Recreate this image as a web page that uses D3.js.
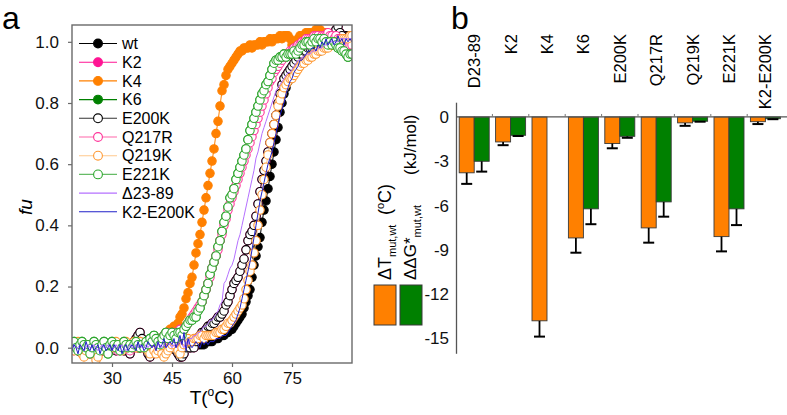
<!DOCTYPE html>
<html><head><meta charset="utf-8">
<script src="https://cdn.jsdelivr.net/npm/d3@7"></script>
<style>
body{margin:0;background:#fff}
svg{display:block;font-family:"Liberation Sans",Arial,sans-serif}
</style>
</head><body>
<svg id="c" width="787" height="415"></svg>
<script>
// ---------- Panel a data: fu (in %) sampled every 0.5 °C from 20 to 90 °C ----------
const tempStart = 20, tempStep = 0.5;
const fuWt = [
0,1,0,-1,0,1,0,0,1,0, 0,1,0,0,-1,0,1,0,0,1, 0,0,1,0,0,1,0,-1,0,1, 1,0,1,0,0,1,1,0,1,0,
1,0,0,1,0,1,0,0,1,0, 0,1,0,0,1,0,0,0,1,0, 0,1,1,1,1,1,1,2,2,2, 2,3,3,3,4,4,4,5,5,6,
6,7,8,9,10,11,13,15,17,19, 23,27,30,33,36,41,45,48,52,56, 60,64,68,72,77,80,83,85,87,88,
89,90,91,92,93,93,94,94,95,95, 96,96,97,97,97,98,98,99,99,99, 100,100,100,101,101,101,101,102,101,102, 102];
const fuK2 = [
0,1,0,-1,0,1,0,1,0,-1, 0,1,0,0,1,-1,0,1,0,0, 1,0,-1,0,1,0,-1,0,1,-2, 0,2,3,4,5,3,1,0,-2,-3,
-1,0,1,0,1,0,-1,0,1,0, 1,0,-1,-2,-3,-3,-2,0,1,0, 1,0,2,3,4,5,5,6,7,7, 8,8,9,10,10,11,12,14,15,17,
19,21,22,23,25,27,29,32,35,37, 38,40,43,47,51,55,58,61,64,67, 70,73,76,80,83,86,88,89,90,91,
92,93,94,95,96,96,97,97,98,98, 98,99,99,99,100,100,100,101,101,102, 102,103,104,105,103,102,101,100,100,99, 99];
const fuK4 = [
0,1,0,0,-1,0,1,0,0,1, 0,0,1,0,0,-1,0,1,0,0, 1,0,0,1,0,0,1,0,0,1, 0,1,1,0,1,0,1,1,2,1,
1,2,1,2,2,2,3,3,4,6, 6,7,7,8,10,11,13,16,18,21, 23,27,31,34,37,41,45,49,53,57, 61,65,70,74,79,84,86,89,91,92,
93,94,95,96,97,97,98,98,98,99, 98,99,99,99,100,99,100,100,100,101, 100,101,101,101,102,101,102,102,102,101,
99,98,100,101,102,102,102,103,103,103, 103,103,104,104,104,103,103,103,102,102, 102,102,101,101,101,101,100,100,100,100, 100];
const fuK6 = [
1,2,0,-1,1,2,1,0,1,-2, 0,2,1,0,-1,1,2,0,-2,1, 2,1,0,1,-1,0,2,1,0,1, 0,1,2,1,0,1,0,2,1,3,
2,4,3,2,1,3,4,5,3,4, 5,4,3,5,5,4,6,7,8,9, 9,10,10,12,13,15,17,19,21,24, 26,28,30,33,35,38,41,43,46,49,
50,52,55,57,59,61,63,65,68,71, 73,75,77,79,81,83,84,86,87,89, 91,93,94,94,95,95,96,95,96,96,
96,97,96,97,98,99,99,100,100,99, 100,101,100,101,101,100,101,100,99,100, 99,100,99,98,98,97,97,96,95,96, 96];
const fuE200K = [
0,1,0,-1,0,1,0,1,0,-1, 0,1,0,0,1,-1,0,1,0,0, 1,0,-1,0,1,0,-1,0,1,-2, 0,2,3,4,5,3,1,0,-2,-3,
-1,0,1,0,1,0,-1,0,1,0, 1,0,-1,-2,-3,-3,-2,0,1,0, 1,0,2,3,4,5,5,6,7,7, 8,8,9,10,10,11,12,14,15,17,
19,21,22,23,25,27,29,32,35,37, 38,40,43,47,51,55,58,61,64,67, 70,73,76,80,83,86,88,89,90,91,
92,93,94,95,96,96,97,97,98,98, 98,99,99,99,100,100,100,101,101,102, 102,103,104,105,103,102,101,100,100,99, 99];
const fuQ217R = [
0,-1,1,0,1,-1,0,1,0,-2, 1,0,-1,0,1,0,-1,1,0,0, 1,0,0,-1,1,0,0,1,0,-1, 0,1,0,1,2,0,1,1,2,1,
2,1,3,2,3,2,4,3,5,4, 4,5,5,4,6,5,6,7,8,9, 10,11,12,13,14,15,17,19,21,23, 26,28,30,32,35,37,40,42,45,47,
49,51,53,55,57,59,61,63,65,67, 69,71,73,75,77,79,81,83,85,87, 88,90,91,92,93,94,95,96,96,97,
97,98,98,99,99,100,100,101,101,101, 101,102,102,102,101,102,102,102,103,102, 102,101,102,101,101,100,100,100,99,99, 99];
const fuQ219K = [
1,-1,0,2,1,-2,-3,-1,0,1, 0,-2,-4,-3,0,1,0,-1,1,0, 0,1,2,1,0,-1,1,2,0,1, 1,2,0,1,2,1,0,1,-1,-2,
1,-1,-2,-1,0,-2,-3,-2,-1,0, 1,2,3,-1,-2,0,1,2,3,2, 2,3,3,3,4,4,3,4,4,4, 4,4,5,5,5,6,6,7,8,8,
9,10,11,12,13,14,16,19,22,25, 27,31,35,40,45,50,55,59,63,67, 70,73,76,79,81,83,85,86,87,88,
88,89,90,91,92,93,93,94,94,95, 95,96,96,97,97,97,98,98,98,99, 99,99,100,100,100,101,101,101,101,102, 102];
const fuE221K = [
1,2,0,-1,1,2,1,0,1,-2, 0,2,1,0,-1,1,2,0,-2,1, 2,1,0,1,-1,0,2,1,0,1, 0,1,2,1,0,1,0,2,1,3,
2,4,3,2,1,3,4,5,3,4, 5,4,3,5,5,4,6,7,8,9, 9,10,10,12,13,15,17,19,21,24, 26,28,30,33,35,38,41,43,46,49,
50,52,55,57,59,61,63,65,68,71, 73,75,77,79,81,83,84,86,87,89, 91,93,94,94,95,95,96,95,96,96,
96,97,96,97,98,99,99,100,100,99, 100,101,100,101,101,100,101,100,99,100, 99,100,99,98,98,97,97,96,95,96, 96];
const fuD2389 = [
0,1,0,0,1,0,-1,0,1,0, 0,1,0,-1,0,1,0,0,1,0, -1,0,1,0,0,1,0,-1,0,1, 0,0,1,0,1,0,0,1,0,1,
0,1,0,1,1,0,1,0,1,1, 0,1,0,1,2,1,0,2,1,3, 3,4,4,5,5,6,7,7,8,9, 9,10,11,12,14,15,21,22,24,26,
27,29,32,35,37,40,43,46,49,52, 55,58,62,64,67,70,72,74,76,78, 80,82,84,85,86,87,88,89,90,90,
91,92,93,94,94,95,95,96,96,96, 97,97,97,98,98,98,99,99,99,100, 100,100,100,100,101,101,101,101,101,101, 101];
const fuK2E200K = [
-1,1,0,-2,1,0,-1,2,0,-1, 1,-1,0,1,-2,0,1,-1,0,1, -1,1,0,-1,1,-2,0,1,-1,0, 1,0,-1,2,0,1,-1,0,2,1,
0,1,-1,2,0,1,3,0,1,2, 1,3,0,2,4,1,5,-1,3,1, 0,1,2,1,0,2,1,2,1,2, 2,2,3,3,3,4,4,4,5,6,
7,8,9,11,13,16,19,22,25,28, 32,36,40,44,48,51,54,57,60,62, 64,67,70,73,76,78,80,83,85,87,
88,90,91,92,94,94,95,96,97,97, 98,98,97,99,98,100,99,101,99,100, 101,99,100,102,100,101,99,101,100,101, 100];
const seriesNames = ["wt","K2","K4","K6","E200K","Q217R","Q219K","E221K","\u039423-89","K2-E200K"];
const seriesValues = [fuWt,fuK2,fuK4,fuK6,fuE200K,fuQ217R,fuQ219K,fuE221K,fuD2389,fuK2E200K];
const xTicksA = [30,45,60,75];
const yTicksA = [0,20,40,60,80,100];

// ---------- Panel b data ----------
const categories = ["D23-89","K2","K4","K6","E200K","Q217R","Q219K","E221K","K2-E200K"];
const dTm   = [-3.78,-1.69,-13.8,-8.19,-1.80,-7.51,-0.40,-8.10,-0.32];
const dTmErr= [0.75,0.22,1.07,1.00,0.32,1.00,0.20,1.00,0.16];
const ddG   = [-3.00,-1.24,null,-6.22,-1.31,-5.75,-0.29,-6.22,-0.12];
const ddGErr= [0.70,0.05,null,1.04,0.10,1.00,0.03,1.10,0.03];
const yTicksB = [0,-3,-6,-9,-12,-15];

// ---------- styles ----------
const styles = [
 {stroke:"#000000", fill:"#000000", line:"#000000", marker:true},
 {stroke:"#FF1493", fill:"#FF1493", line:"#FF1493", marker:true},
 {stroke:"#FF8000", fill:"#FF8000", line:"#FF8000", marker:true},
 {stroke:"#008000", fill:"#008000", line:"#008000", marker:true},
 {stroke:"#000000", fill:"#ffffff", line:"#333333", marker:true},
 {stroke:"#FF3399", fill:"#ffffff", line:"#FF66AA", marker:true},
 {stroke:"#FF9933", fill:"#ffffff", line:"#FFC88C", marker:true},
 {stroke:"#2EA82E", fill:"#ffffff", line:"#66BB66", marker:true},
 {stroke:"#B570FF", line:"#B570FF", marker:false},
 {stroke:"#2020C8", line:"#2020C8", marker:false}
];
const FONT = '"Liberation Sans",Arial,sans-serif';

const svg = d3.select("#c");

// ================= Panel a =================
const x = d3.scaleLinear().domain([20,90]).range([72,352]);
const y = d3.scaleLinear().domain([-5,105.5]).range([363,25]);

svg.append("defs").append("clipPath").attr("id","clipA")
  .append("rect").attr("x",72).attr("y",25).attr("width",280).attr("height",338);

const gA = svg.append("g").attr("clip-path","url(#clipA)");
const line = d3.line().x(d=>x(d[0])).y(d=>y(d[1]));

seriesValues.forEach((vals,si)=>{
  const st = styles[si];
  const pts = vals.map((v,i)=>[tempStart + i*tempStep, v]);
  gA.append("path").attr("d",line(pts)).attr("fill","none")
    .attr("stroke",st.line).attr("stroke-width",1);
  if(st.marker){
    gA.append("g").selectAll("circle").data(pts).join("circle")
      .attr("cx",d=>x(d[0])).attr("cy",d=>y(d[1])).attr("r",4.2)
      .attr("fill",st.fill).attr("stroke",st.stroke).attr("stroke-width",1.1);
  }
});

// frame
svg.append("rect").attr("x",72).attr("y",25).attr("width",280).attr("height",338)
  .attr("fill","none").attr("stroke","#6a6a6a").attr("stroke-width",1.4);

const axA_y = svg.append("g").attr("transform","translate(72,0)")
  .call(d3.axisLeft(y).tickValues(yTicksA).tickFormat(d=>(d/100).toFixed(1)).tickSize(4).tickSizeOuter(0).tickPadding(9));
const axA_x = svg.append("g").attr("transform","translate(0,363)")
  .call(d3.axisBottom(x).tickValues(xTicksA).tickSize(4).tickSizeOuter(0).tickPadding(5));
[axA_y,axA_x].forEach(g=>{
  g.select(".domain").remove();
  g.selectAll("line").attr("stroke","#6a6a6a").attr("stroke-width",1.2);
  g.selectAll("text").attr("font-size",17).attr("font-family",FONT).attr("fill","#111");
});

// axis titles
svg.append("text").attr("transform","translate(32,207) rotate(-90)")
  .attr("text-anchor","middle").attr("font-size",19).attr("font-style","italic")
  .attr("font-family",FONT).text("fu");
const tT = svg.append("text").attr("x",212).attr("y",404).attr("text-anchor","middle")
  .attr("font-size",19).attr("font-family",FONT);
tT.append("tspan").text("T(");
tT.append("tspan").attr("font-size",12).attr("dy",-8).text("o");
tT.append("tspan").attr("dy",8).text("C)");

// legend a
const legA = svg.append("g");
seriesNames.forEach((n,i)=>{
  const st = styles[i];
  const ly = 43.5 + i*18.7;
  legA.append("line").attr("x1",79).attr("x2",117).attr("y1",ly).attr("y2",ly)
    .attr("stroke",st.line).attr("stroke-width",1.1);
  if(st.marker){
    legA.append("circle").attr("cx",98).attr("cy",ly).attr("r",4.4)
      .attr("fill",st.fill).attr("stroke",st.stroke).attr("stroke-width",1.1);
  }
  legA.append("text").attr("x",122).attr("y",ly).attr("dy","0.36em")
    .attr("font-size",16).attr("font-family",FONT).text(n);
});

// panel labels
svg.append("text").attr("x",2).attr("y",29).attr("font-size",32).attr("font-family",FONT).text("a");
svg.append("text").attr("x",451).attr("y",29).attr("font-size",32).attr("font-family",FONT).text("b");

// ================= Panel b =================
const xb = d3.scaleBand().domain(categories).range([456,783.6]).padding(0);
const yb = d3.scaleLinear().domain([-16,1]).range([353.3,102.2]);
const barW = 15;

// y axis
const axB = svg.append("g").attr("transform","translate(456,0)")
  .call(d3.axisLeft(yb).tickValues(yTicksB).tickFormat(d=>String(d)).tickSize(0).tickSizeOuter(0).tickPadding(7));
axB.select(".domain").attr("stroke","#555").attr("stroke-width",1.3);
axB.selectAll("text").attr("font-size",17).attr("font-family",FONT).attr("fill","#111");

// bars
const gB = svg.append("g");
categories.forEach((c,i)=>{
  const x0 = xb(c) + (xb.bandwidth() - 2*barW)/2;
  const sets = [[dTm[i],dTmErr[i],"#FF8000",x0],[ddG[i],ddGErr[i],"#008000",x0+barW]];
  sets.forEach(([v,e,col,bx])=>{
    if(v===null) return;
    gB.append("rect").attr("x",bx).attr("y",yb(0)).attr("width",barW)
      .attr("height",yb(v)-yb(0)).attr("fill",col).attr("stroke","#3a3a3a").attr("stroke-width",0.9);
    const cx = bx + barW/2;
    gB.append("line").attr("x1",cx).attr("x2",cx).attr("y1",yb(v)).attr("y2",yb(v-e))
      .attr("stroke","#000").attr("stroke-width",1.8);
    gB.append("line").attr("x1",cx-5.5).attr("x2",cx+5.5).attr("y1",yb(v-e)).attr("y2",yb(v-e))
      .attr("stroke","#000").attr("stroke-width",2);
  });
});

// zero line with small boundary ticks
svg.append("line").attr("x1",456).attr("x2",787).attr("y1",yb(0)).attr("y2",yb(0))
  .attr("stroke","#555").attr("stroke-width",1.3);
categories.slice(1).forEach(c=>{
  svg.append("line").attr("x1",xb(c)).attr("x2",xb(c)).attr("y1",yb(0)).attr("y2",yb(0)-3)
    .attr("stroke","#777").attr("stroke-width",1);
});

// category labels
categories.forEach(c=>{
  svg.append("text").attr("transform",`translate(${xb(c)+xb.bandwidth()/2},34) rotate(-90)`)
    .attr("text-anchor","end").attr("dy","0.36em").attr("font-size",16.5)
    .attr("font-family",FONT).text(c);
});

// legend b
svg.append("rect").attr("x",374).attr("y",285).attr("width",22).attr("height",40)
  .attr("fill","#FF8000").attr("stroke","#3a3a3a").attr("stroke-width",1);
svg.append("rect").attr("x",400).attr("y",285).attr("width",22).attr("height",40)
  .attr("fill","#008000").attr("stroke","#3a3a3a").attr("stroke-width",1);

const l1 = svg.append("text").attr("transform","translate(391,280) rotate(-90)")
  .attr("font-family",FONT).attr("font-size",18);
l1.append("tspan").text("\u0394T");
l1.append("tspan").attr("font-size",11).attr("dy",5).text("mut,wt");
l1.append("tspan").attr("x",65).attr("dy",-5).text("(");
l1.append("tspan").attr("font-size",11).attr("dy",-7).text("o");
l1.append("tspan").attr("dy",7).text("C)");

const l2 = svg.append("text").attr("transform","translate(416,280) rotate(-90)")
  .attr("font-family",FONT).attr("font-size",17);
l2.append("tspan").text("\u0394\u0394G*");
l2.append("tspan").attr("font-size",11).attr("dy",5).text("mut,wt");
l2.append("tspan").attr("x",105).attr("dy",-5).text("(kJ/mol)");
</script>
</body></html>
